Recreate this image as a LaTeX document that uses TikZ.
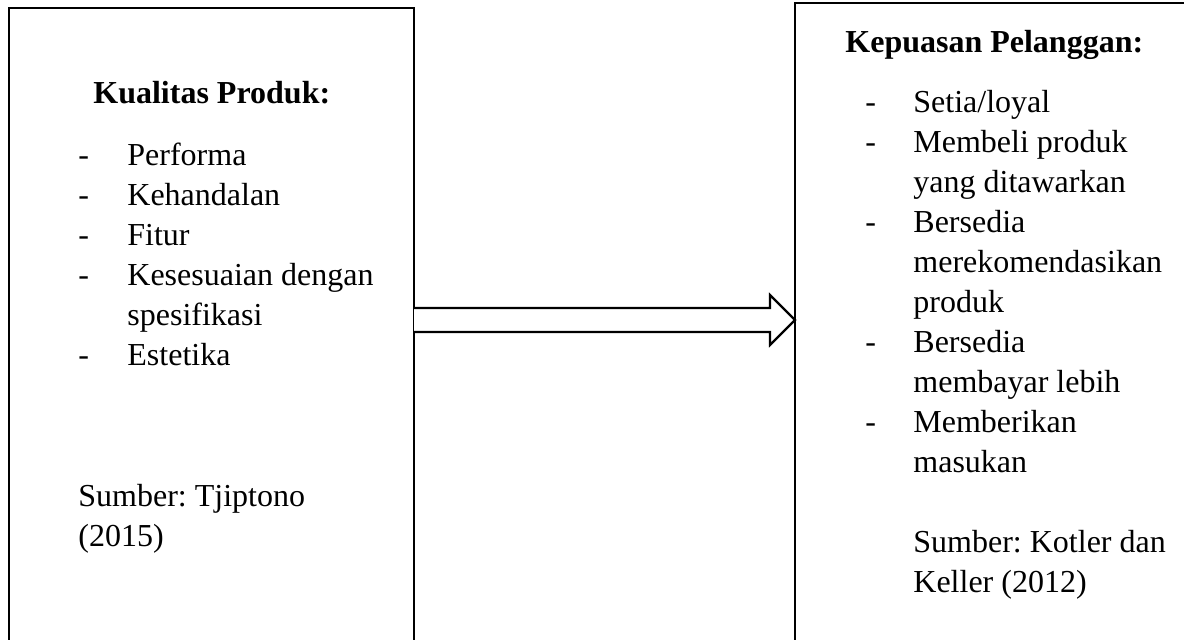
\documentclass[tikz,border=0pt]{standalone}
\usepackage{fontspec}
\setmainfont{Liberation Serif}
\frenchspacing
\usetikzlibrary{calc}
\tikzset{
  frame/.style={draw=black, line width=1.15pt},
  arrowline/.style={draw=black, line width=1.1pt, fill=white, line join=miter},
  txt/.style={anchor=base west, inner sep=0pt, font=\fontsize{16}{20}\selectfont},
  head/.style={txt, font=\fontsize{16}{20}\selectfont\bfseries},
}
\begin{document}
\begin{tikzpicture}[x=0.5pt, y=-0.5pt]
  \useasboundingbox (0,0) rectangle (1184,640);
  \clip (0,0) rectangle (1184,640);

  % the two boxes (they run past the lower and right edges)
  \coordinate (lefttl) at (9,8);
  \coordinate (leftbr) at (414,700);
  \coordinate (righttl) at (795,3);
  \coordinate (rightbr) at (1240,700);
  \draw[frame] (lefttl) rectangle (leftbr);
  \draw[frame] (righttl) rectangle (rightbr);

  % block arrow from the left box to the right box
  \coordinate (tail) at (414,320);
  \coordinate (tip) at (795,320);
  \draw[arrowline]
    ($(tail)+(0,-12)$) -- ($(tip)+(-25,-12)$) -- ($(tip)+(-25,-25)$) -- (tip)
    -- ($(tip)+(-25,25)$) -- ($(tip)+(-25,12)$) -- ($(tail)+(0,12)$);

  % left box: product quality
  \node[head] (kq) at (93,104) {Kualitas Produk:};
  \node[txt] (d1) at (78,166) {-};
  \node[txt] (k1) at (127,166) {Performa};
  \node[txt] (d2) at (78,206) {-};
  \node[txt] (k2) at (127,206) {Kehandalan};
  \node[txt] (d3) at (78,246) {-};
  \node[txt] (k3) at (127,246) {Fitur};
  \node[txt] (d4) at (78,286) {-};
  \node[txt] (k4) at (127,286) {Kesesuaian dengan};
  \node[txt] (k4b) at (127,326) {spesifikasi};
  \node[txt] (d5) at (78,366) {-};
  \node[txt] (k5) at (127,366) {Estetika};
  \node[txt] (s1) at (78,507) {Sumber: Tjiptono};
  \node[txt] (s1b) at (78,547) {(2015)};

  % right box: customer satisfaction
  \node[head] (kp) at (845,53) {Kepuasan Pelanggan:};
  \node[txt] (e1) at (865,113) {-};
  \node[txt] (p1) at (913,113) {Setia/loyal};
  \node[txt] (e2) at (865,153) {-};
  \node[txt] (p2) at (913,153) {Membeli produk};
  \node[txt] (p2b) at (913,193) {yang ditawarkan};
  \node[txt] (e3) at (865,233) {-};
  \node[txt] (p3) at (913,233) {Bersedia};
  \node[txt] (p3b) at (913,273) {merekomendasikan};
  \node[txt] (p3c) at (913,313) {produk};
  \node[txt] (e4) at (865,353) {-};
  \node[txt] (p4) at (913,353) {Bersedia};
  \node[txt] (p4b) at (913,393) {membayar lebih};
  \node[txt] (e5) at (865,433) {-};
  \node[txt] (p5) at (913,433) {Memberikan};
  \node[txt] (p5b) at (913,473) {masukan};
  \node[txt] (s2) at (913,553) {Sumber: Kotler dan};
  \node[txt] (s2b) at (913,593) {Keller (2012)};
\end{tikzpicture}
\end{document}
